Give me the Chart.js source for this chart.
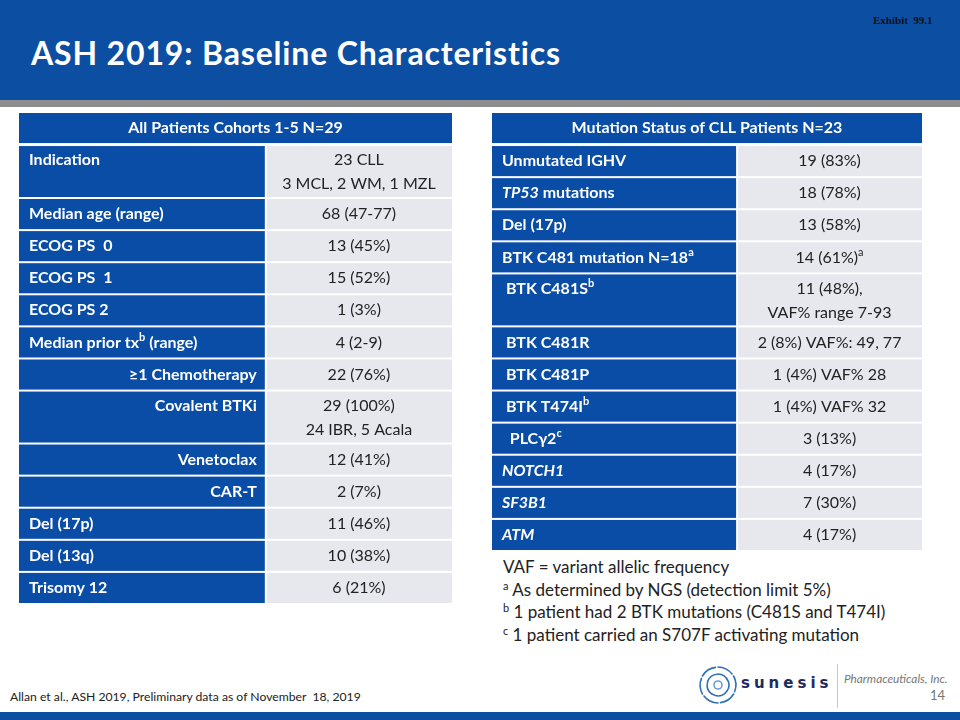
<!DOCTYPE html>
<html>
<head>
<meta charset="utf-8">
<script src="https://cdn.jsdelivr.net/npm/chart.js@4.4.1/dist/chart.umd.min.js"></script>
<style>
body{margin:0;width:960px;height:720px;position:relative;overflow:hidden;background:#fff;font-family:Lato,sans-serif}
#band{position:absolute;left:0;top:0;width:960px;height:100px;background:#0B4EA2}
#grey{position:absolute;left:0;top:100px;width:960px;height:7px;background:#8E8E8E}
#title{position:absolute;left:31px;top:33px;color:#fff;font:bold 32px Lato;letter-spacing:0.85px;white-space:nowrap}
#exhibit{position:absolute;left:873px;top:14px;font:bold 11px 'Liberation Serif';color:#111}
.box{position:absolute}
#leftBox{left:19px;top:113px;width:433px;height:492px}
#rightBox{left:492px;top:113px;width:430px;height:439px}
#notes{position:absolute;left:503px;top:556px;font:17px Lato;color:#222;line-height:22.5px;white-space:nowrap}
#notes sup{font-size:11px;vertical-align:6px;line-height:0}
#cite{position:absolute;left:10px;top:689px;font:12.2px Lato;color:#222;white-space:nowrap}
#foot{position:absolute;left:0;top:712px;width:960px;height:8px;background:#0B4EA2}
#sunesis{position:absolute;left:741px;top:674px;font:bold 15px 'DejaVu Sans';letter-spacing:4px;color:#1b2b5e}
#vline{position:absolute;left:837px;top:664px;width:1px;height:44px;background:#c8c8c8}
#pharma{position:absolute;left:844px;top:671px;font:italic 11.8px Lato;color:#777;white-space:nowrap}
#page{position:absolute;left:930px;top:687px;font:13px Lato;color:#777}
#logo{position:absolute;left:697px;top:664px}
</style>
</head>
<body>
<div id="band"></div>
<div id="grey"></div>
<div id="title">ASH 2019: Baseline Characteristics</div>
<div id="exhibit">Exhibit&nbsp; 99.1</div>

<div class="box" id="leftBox"><canvas id="leftTable"></canvas></div>
<div class="box" id="rightBox"><canvas id="rightTable"></canvas></div>

<div id="notes">
VAF = variant allelic frequency<br>
<sup>a</sup> As determined by NGS (detection limit 5%)<br>
<sup>b</sup> 1 patient had 2 BTK mutations (C481S and T474I)<br>
<sup>c</sup> 1 patient carried an S707F activating mutation
</div>

<div id="cite">Allan et al., ASH 2019, Preliminary data as of November&nbsp; 18, 2019</div>

<svg id="logo" width="42" height="42" viewBox="-21 -21 42 42">
  <g fill="none" stroke="#2f6fb8" stroke-width="1.6" stroke-linecap="round">
    <path id="arc" d="M 0 -18 A 18 18 0 0 1 14 -11"/>
    <use href="#arc" transform="rotate(60)"/>
    <use href="#arc" transform="rotate(120)"/>
    <use href="#arc" transform="rotate(180)"/>
    <use href="#arc" transform="rotate(240)"/>
    <use href="#arc" transform="rotate(300)"/>
    <path id="arc2" d="M 0 -11 A 11 11 0 0 1 10 -4"/>
    <use href="#arc2" transform="rotate(72)"/>
    <use href="#arc2" transform="rotate(144)"/>
    <use href="#arc2" transform="rotate(216)"/>
    <use href="#arc2" transform="rotate(288)"/>
    <circle r="4" stroke="#6b9fd6"/>
  </g>
</svg>
<div id="sunesis">sunesis</div>
<div id="vline"></div>
<div id="pharma">Pharmaceuticals, Inc.</div>
<div id="page">14</div>
<div id="foot"></div>

<script>
// table contents
const leftHeader = 'All Patients Cohorts 1-5 N=29';
const leftLabels = ['Indication', 'Median age (range)', 'ECOG PS  0', 'ECOG PS  1', 'ECOG PS 2',
  'Median prior tx^{b} (range)', '≥1 Chemotherapy', 'Covalent BTKi', 'Venetoclax', 'CAR-T',
  'Del (17p)', 'Del (13q)', 'Trisomy 12'];
const leftValues = ['23 CLL\n3 MCL, 2 WM, 1 MZL', '68 (47-77)', '13 (45%)', '15 (52%)', '1 (3%)',
  '4 (2-9)', '22 (76%)', '29 (100%)\n24 IBR, 5 Acala', '12 (41%)', '2 (7%)',
  '11 (46%)', '10 (38%)', '6 (21%)'];
const leftSubRows = ['≥1 Chemotherapy', 'Covalent BTKi', 'Venetoclax', 'CAR-T'];

const rightHeader = 'Mutation Status of CLL Patients N=23';
const rightLabels = ['Unmutated IGHV', '_TP53_ mutations', 'Del (17p)', 'BTK C481 mutation N=18^{a}',
  ' BTK C481S^{b}', ' BTK C481R', ' BTK C481P', ' BTK T474I^{b}', '  PLCγ2^{c}',
  '_NOTCH1_', '_SF3B1_', '_ATM_'];
const rightValues = ['19 (83%)', '18 (78%)', '13 (58%)', '14 (61%)^{a}', '11 (48%),\nVAF% range 7-93',
  '2 (8%) VAF%: 49, 77', '1 (4%) VAF% 28', '1 (4%) VAF% 32', '3 (13%)',
  '4 (17%)', '7 (30%)', '4 (17%)'];

const BLUE = '#0A4DA6';
const GREY_CELL = '#E6E8EE';
const colSplit = 0.57;

// split "abc^{x}_it_" into runs
function runs(str) {
  return str.split(/(\^\{[^}]*\}|_[^_]*_)/).filter(s => s.length).map(s => {
    if (s.startsWith('^{')) return {t: s.slice(2, -1), sup: true};
    if (s.startsWith('_') && s.endsWith('_') && s.length > 1) return {t: s.slice(1, -1), it: true};
    return {t: s};
  });
}

function drawRich(ctx, str, x, y, align, weight) {
  const parts = runs(str);
  const fontOf = p => p.sup ? weight + ' 11px Lato' : (p.it ? 'italic ' : '') + weight + ' 16px Lato';
  let w = 0;
  parts.forEach(p => { ctx.font = fontOf(p); p.w = ctx.measureText(p.t).width; w += p.w; });
  let cx = align === 'center' ? x - w / 2 : align === 'right' ? x - w : x;
  ctx.textAlign = 'left';
  ctx.textBaseline = 'middle';
  parts.forEach(p => {
    ctx.font = fontOf(p);
    ctx.fillText(p.t, cx, p.sup ? y - 5 : y);
    cx += p.w;
  });
}

const tablePlugin = {
  id: 'tableCells',
  beforeDatasetsDraw(chart) {
    const {ctx, scales: {x, y}} = chart;
    const o = chart.options.plugins.tableCells;
    const xl = x.getPixelForValue(0), xr = x.getPixelForValue(1), xs = x.getPixelForValue(colSplit);
    ctx.save();
    // header
    let top = y.getPixelForValue(0), bot = y.getPixelForValue(o.headerSpan);
    ctx.fillStyle = BLUE;
    ctx.fillRect(xl, top, xr - xl, bot - top - 3);
    ctx.fillStyle = '#fff';
    drawRich(ctx, o.header, (xl + xr) / 2, (top + bot - 3) / 2, 'center', 'bold');
    // body rows
    o.labels.forEach((lab, i) => {
      const t = y.getPixelForValue(o.starts[i]);
      const b = y.getPixelForValue(o.starts[i] + o.spans[i]) - 2;
      ctx.fillStyle = BLUE;
      ctx.fillRect(xl, t, xs - 1 - xl, b - t);
      ctx.fillStyle = GREY_CELL;
      ctx.fillRect(xs + 1, t, xr - xs - 1, b - t);
      const lines = o.values[i].split('\n');
      const firstY = lines.length > 1 ? t + 14 : (t + b) / 2;
      ctx.fillStyle = '#fff';
      if (o.sub.includes(lab)) drawRich(ctx, lab, xs - 9, firstY, 'right', 'bold');
      else drawRich(ctx, lab, xl + 10, firstY, 'left', 'bold');
      ctx.fillStyle = '#222';
      lines.forEach((ln, k) => drawRich(ctx, ln, (xs + xr) / 2, firstY + k * 24, 'center', 'normal'));
    });
    ctx.restore();
  }
};

function makeTable(id, header, labels, values, sub) {
  const headerSpan = 1.03;
  const spans = values.map(v => v.includes('\n') ? 1.65 : 1);
  const starts = [];
  let acc = headerSpan;
  spans.forEach(s => { starts.push(acc); acc += s; });
  const total = acc;
  return new Chart(document.getElementById(id), {
    type: 'scatter',
    data: {
      datasets: [{
        data: starts.map((s, i) => ({x: (colSplit + 1) / 2, y: s + spans[i] / 2})),
        pointRadius: 0
      }]
    },
    options: {
      responsive: true,
      maintainAspectRatio: false,
      animation: false,
      events: [],
      layout: {padding: 0},
      scales: {
        x: {type: 'linear', min: 0, max: 1, display: false},
        y: {type: 'linear', min: 0, max: total, reverse: true, display: false}
      },
      plugins: {
        legend: {display: false},
        tooltip: {enabled: false},
        tableCells: {header, labels, values, sub, spans, starts, headerSpan}
      }
    },
    plugins: [tablePlugin]
  });
}

makeTable('leftTable', leftHeader, leftLabels, leftValues, leftSubRows);
makeTable('rightTable', rightHeader, rightLabels, rightValues, []);
</script>
</body>
</html>
